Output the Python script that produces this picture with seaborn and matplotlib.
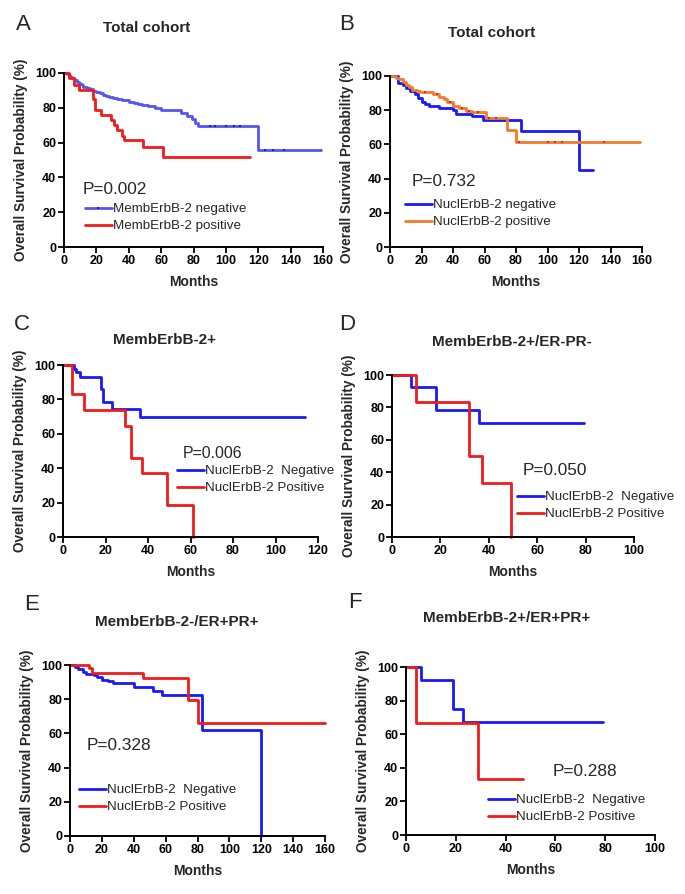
import matplotlib
matplotlib.use("Agg")
import matplotlib.pyplot as plt
from matplotlib.lines import Line2D
import numpy as np
import pandas as pd
import seaborn as sns

sns.set_theme(style="ticks")
plt.rcParams["font.family"] = ["Liberation Sans", "DejaVu Sans"]

W, H = 685, 894

# ---- data (months, survival %) ----
# A: total cohort, membrane ErbB-2
a_neg_t = [0, 2, 3, 4, 5, 6, 7, 8, 9, 10, 11, 12, 14, 16, 18, 20, 22, 24, 26, 28, 30, 33, 36,
           40, 43, 46, 48, 52, 56, 60, 72, 76, 79, 81, 83, 120, 159]
a_neg_s = [100, 99.3, 98.6, 97.9, 97.2, 96.5, 95.8, 95, 94.3, 93.6, 92.9, 92.2, 91.4, 90.6, 89.8,
           89, 88.3, 87.6, 86.9, 86.2, 85.6, 85, 84.4, 83.6, 82.8, 82, 81.4, 80.8, 80, 79, 77,
           75.5, 73.5, 71.5, 69.3, 55.5, 55.5]
a_neg_cens_t = [90, 93, 100, 105, 109, 124, 129, 136]
a_neg_cens_s = [69.3, 69.3, 69.3, 69.3, 69.3, 55.5, 55.5, 55.5]
a_pos_t = [0, 3, 6, 9, 18, 19, 23, 29, 31, 33, 36, 37, 49, 61, 115]
a_pos_s = [100, 97, 93, 90, 85, 79, 76, 73, 70, 67, 64, 61.5, 57.5, 52, 52]

# B: total cohort, nuclear ErbB-2
b_neg_t = [0, 5, 8, 10, 13, 16, 18, 20, 22, 25, 31, 40, 42, 52, 59, 83, 120, 129]
b_neg_s = [100, 96, 94.5, 93, 91.4, 89.5, 87, 85, 83.5, 82.5, 81.5, 80, 77.5, 76.5, 74.5, 68, 45.2, 45.2]
b_pos_t = [0, 4, 6, 8, 10, 12, 14, 17, 19, 27, 31, 34, 36, 40, 44, 48, 52, 61, 74, 80, 159]
b_pos_s = [100, 99, 98, 96.5, 94.8, 93.5, 92, 91.2, 90.6, 89.5, 88, 86.5, 85, 82.5, 81, 79.8, 79,
           75.5, 68.4, 61.6, 61.6]
b_pos_cens_t = [22, 30, 38, 46, 50, 56, 63, 67, 82, 100, 105, 109, 136]
b_pos_cens_s = [90.6, 89.5, 85, 81, 79.8, 79, 75.5, 75.5, 61.6, 61.6, 61.6, 61.6, 61.6]

# C: MembErbB-2+
c_neg_t = [0, 5, 6, 8, 18, 19, 23, 36, 114]
c_neg_s = [100, 97.5, 96, 93, 86, 78.5, 74.5, 70, 70]
c_pos_t = [0, 4, 10, 29, 32, 37, 49, 61]
c_pos_s = [100, 83.3, 74, 64.5, 46, 37, 18.5, 0]

# D: MembErbB-2+/ER-PR-
d_neg_t = [0, 8, 18, 36, 79.5]
d_neg_s = [100, 92.8, 78.5, 70.5, 70.5]
d_pos_t = [0, 10, 32, 37, 49]
d_pos_s = [100, 83.3, 50, 33.3, 0]

# E: MembErbB-2-/ER+PR+
e_neg_t = [0, 3, 5, 8, 10, 15, 17, 20, 24, 27, 40, 52, 58, 83, 120]
e_neg_s = [100, 99, 97.5, 96, 95, 94, 93, 91.5, 90.5, 89.5, 87, 85, 82.5, 62, 0]
e_pos_t = [0, 12, 14, 46, 74, 80, 160]
e_pos_s = [100, 98, 95.5, 92.5, 79.5, 66, 66]

# F: MembErbB-2+/ER+PR+
f_neg_t = [0, 6, 19, 23, 79]
f_neg_s = [100, 92.3, 75, 67, 67]
f_pos_t = [0, 4, 29, 47]
f_pos_s = [100, 66.7, 33.3, 33.3]

BLUE = "#1a1af5"
LIGHT_BLUE = "#5555f0"
RED = "#ee1c1c"
ORANGE = "#f27b2a"


def fig_rect(l, r, t, b):
    return [l / W, 1 - b / H, (r - l) / W, (b - t) / H]


def km_panel(fig, rect, curves, xmax, xstep, letter, letter_xy, title, title_xy,
             ptext, p_xy, labels, colors, leg_xy, censors=(), leg_marker=None,
             p_size=12.4):
    ax = fig.add_axes(fig_rect(*rect))
    frames = []
    for name, t, s in curves:
        frames.append(pd.DataFrame({"months": t, "surv": s, "group": name}))
    df = pd.concat(frames, ignore_index=True)
    names = [c[0] for c in curves]
    sns.lineplot(data=df, x="months", y="surv", hue="group",
                 palette=dict(zip(names, colors)), hue_order=names,
                 estimator=None, sort=False, drawstyle="steps-post",
                 linewidth=2.0, clip_on=False, legend=False, ax=ax)
    for ct, cs, ccol in censors:
        sns.scatterplot(x=ct, y=cs, color=ccol, marker="s", s=4, linewidth=0,
                        clip_on=False, zorder=5, legend=False, ax=ax)

    ax.set_xlim(0, xmax)
    ax.set_ylim(0, 100)
    ax.set_xticks(np.arange(0, xmax + 1, xstep))
    ax.set_yticks(np.arange(0, 101, 20))
    sns.despine(ax=ax)
    for sp in ("left", "bottom"):
        ax.spines[sp].set_linewidth(1.4)
        ax.spines[sp].set_color("black")
    ax.tick_params(width=1.3, length=4, direction="out", pad=1.5,
                   labelsize=9, colors="black")
    for lab in ax.get_xticklabels() + ax.get_yticklabels():
        lab.set_fontweight("bold")
    ax.set_xlabel("Months", fontsize=10, fontweight="bold", labelpad=6)
    ax.set_ylabel("Overall Survival Probability (%)", fontsize=9.8,
                  fontweight="bold", labelpad=5)

    fig.text(letter_xy[0] / W, 1 - letter_xy[1] / H, letter, fontsize=16,
             ha="center", va="center")
    fig.text(title_xy[0] / W, 1 - title_xy[1] / H, title, fontsize=11,
             fontweight="bold", ha="center", va="center")
    fig.text(p_xy[0] / W, 1 - p_xy[1] / H, ptext, fontsize=p_size, ha="left",
             va="center")

    handles = []
    for i, col in enumerate(colors):
        if i == 0 and leg_marker:
            handles.append(Line2D([], [], color=col, linewidth=2.0, marker="s",
                                  markersize=1.8, markerfacecolor=leg_marker,
                                  markeredgewidth=0, markevery=[1]))
        else:
            handles.append(Line2D([], [], color=col, linewidth=2.0))
    ax.legend(handles, labels, loc="upper left",
              bbox_to_anchor=(leg_xy[0] / W, 1 - leg_xy[1] / H),
              bbox_transform=fig.transFigure, frameon=False, fontsize=9.6,
              handlelength=2.0, handletextpad=0.12, labelspacing=0.35,
              borderpad=0, borderaxespad=0)
    return ax


fig = plt.figure(figsize=(W / 100, H / 100), dpi=100)

km_panel(fig, (64, 323, 73, 247),
         [("neg", a_neg_t, a_neg_s), ("pos", a_pos_t, a_pos_s)], 160, 20,
         "A", (23, 25), "Total cohort", (147, 28), "P=0.002", (83, 189),
         ["MembErbB-2 negative", "MembErbB-2 positive"], [LIGHT_BLUE, RED],
         (85, 203), censors=[(a_neg_cens_t, a_neg_cens_s, "#2020a0")],
         leg_marker="#2020a0")

km_panel(fig, (390, 642, 76, 247),
         [("neg", b_neg_t, b_neg_s), ("pos", b_pos_t, b_pos_s)], 160, 20,
         "B", (347, 25), "Total cohort", (492, 33), "P=0.732", (412, 182),
         ["NuclErbB-2 negative", "NuclErbB-2 positive"], [BLUE, ORANGE],
         (405, 199), censors=[(b_pos_cens_t, b_pos_cens_s, RED)])

km_panel(fig, (63, 318, 365, 537),
         [("neg", c_neg_t, c_neg_s), ("pos", c_pos_t, c_pos_s)], 120, 20,
         "C", (22, 325), "MembErbB-2+", (165, 340), "P=0.006", (183, 453),
         ["NuclErbB-2  Negative", "NuclErbB-2 Positive"], [BLUE, RED],
         (177, 465), p_size=11.4)

km_panel(fig, (392, 634, 375, 537),
         [("neg", d_neg_t, d_neg_s), ("pos", d_pos_t, d_pos_s)], 100, 20,
         "D", (347, 325), "MembErbB-2+/ER-PR-", (512, 342), "P=0.050", (523, 471),
         ["NuclErbB-2  Negative", "NuclErbB-2 Positive"], [BLUE, RED],
         (517, 491))

km_panel(fig, (70, 325, 665, 836),
         [("neg", e_neg_t, e_neg_s), ("pos", e_pos_t, e_pos_s)], 160, 20,
         "E", (32, 605), "MembErbB-2-/ER+PR+", (177, 622), "P=0.328", (87, 745),
         ["NuclErbB-2  Negative", "NuclErbB-2 Positive"], [BLUE, RED],
         (79, 784))

km_panel(fig, (406, 655, 667, 835),
         [("neg", f_neg_t, f_neg_s), ("pos", f_pos_t, f_pos_s)], 100, 20,
         "F", (355, 603), "MembErbB-2+/ER+PR+", (507, 618), "P=0.288", (553, 772),
         ["NuclErbB-2  Negative", "NuclErbB-2 Positive"], [BLUE, RED],
         (488, 794))

fig.savefig("out.png", dpi=100, facecolor="white")
